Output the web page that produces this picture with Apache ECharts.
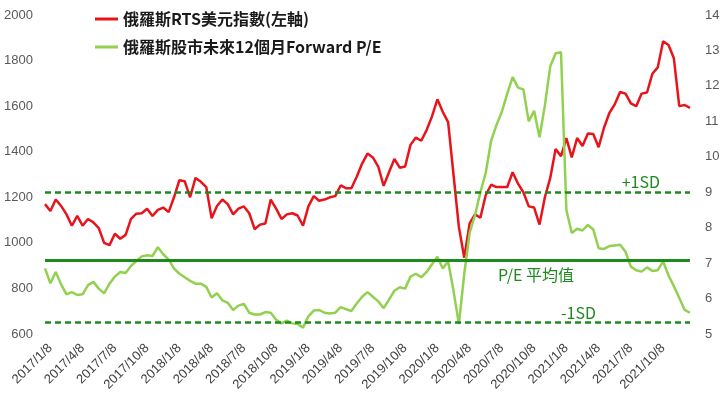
<!DOCTYPE html>
<html>
<head>
<meta charset="utf-8">
<script src="https://cdn.jsdelivr.net/npm/echarts@6/dist/echarts.min.js"></script>
<style>
html, body { margin: 0; padding: 0; background: #fff; }
#chart { width: 725px; height: 403px; }
</style>
</head>
<body>
<div id="chart"></div>
<script>
// 季度刻度標籤
var tickLabels = ['2017/1/8', '2017/4/8', '2017/7/8', '2017/10/8', '2018/1/8', '2018/4/8', '2018/7/8', '2018/10/8',
    '2019/1/8', '2019/4/8', '2019/7/8', '2019/10/8', '2020/1/8', '2020/4/8', '2020/7/8', '2020/10/8',
    '2021/1/8', '2021/4/8', '2021/7/8', '2021/10/8'];

// 俄羅斯RTS美元指數 (左軸), 每半月一點, 2016/12/23 ~ 2021/12/23
var rtsIndex = [
    1170, 1140, 1190, 1162, 1125, 1075, 1118, 1075, 1105, 1090, 1065, 1000, 990, 1040, 1018, 1035,
    1105, 1128, 1130, 1150, 1118, 1145, 1155, 1135, 1200, 1275, 1270, 1200, 1285, 1268, 1245, 1108,
    1162, 1190, 1170, 1125, 1150, 1160, 1130, 1060, 1080, 1085, 1190, 1150, 1105, 1125, 1130, 1120,
    1075, 1160, 1205, 1185, 1190, 1200, 1205, 1252, 1240, 1240, 1290, 1348, 1392, 1375, 1335, 1250,
    1310, 1368, 1330, 1335, 1430, 1462, 1448, 1495, 1555, 1630, 1575, 1530, 1300, 1070, 935, 1085,
    1125, 1110, 1210, 1255, 1245, 1245, 1245, 1310, 1260, 1222, 1160, 1155, 1080, 1200, 1285, 1412,
    1380, 1460, 1375, 1460, 1425, 1480, 1478, 1420, 1505, 1570, 1608, 1662, 1655, 1612, 1600, 1655,
    1660, 1742, 1770, 1885, 1868, 1810, 1600, 1605, 1592
];

// 俄羅斯股市未來12個月Forward P/E (右軸)
var forwardPE = [
    6.85, 6.43, 6.75, 6.40, 6.12, 6.18, 6.10, 6.12, 6.38, 6.47, 6.28, 6.15, 6.42, 6.62, 6.75, 6.72,
    6.92, 7.06, 7.19, 7.22, 7.20, 7.45, 7.25, 7.10, 6.85, 6.70, 6.60, 6.50, 6.42, 6.42, 6.33, 6.03,
    6.15, 5.95, 5.88, 5.68, 5.80, 5.85, 5.60, 5.55, 5.55, 5.62, 5.60, 5.40, 5.30, 5.38, 5.30, 5.28,
    5.18, 5.50, 5.66, 5.68, 5.60, 5.58, 5.60, 5.76, 5.70, 5.65, 5.86, 6.05, 6.18, 6.05, 5.92, 5.73,
    5.97, 6.22, 6.32, 6.28, 6.62, 6.70, 6.60, 6.75, 6.97, 7.18, 6.85, 7.05, 6.22, 5.28, 6.70, 7.85,
    8.35, 9.00, 9.55, 10.45, 10.90, 11.27, 11.78, 12.25, 11.95, 11.90, 11.00, 11.30, 10.55, 11.45, 12.55, 12.92,
    12.95, 8.50, 7.85, 7.97, 7.92, 8.08, 7.95, 7.42, 7.40, 7.48, 7.50, 7.52, 7.32, 6.90, 6.80, 6.76,
    6.88, 6.78, 6.80, 7.05, 6.65, 6.35, 6.02, 5.68, 5.60
];

// P/E 平均值與正負一個標準差
var peMean = 7.07;
var pePlus1SD = 8.99;
var peMinus1SD = 5.32;

// 類目: 每月8日及23日
var categories = ['2016/12/23'];
for (var y = 2017; y <= 2021; y++) {
    for (var m = 1; m <= 12; m++) {
        categories.push(y + '/' + m + '/8');
        categories.push(y + '/' + m + '/23');
    }
}

var sdGreen = '#1e8a1e';
var axisText = {
    color: '#595959',
    fontSize: 13,
    fontFamily: 'Liberation Sans',
    formatter: function (v) { return String(v); }
};

var myChart = echarts.init(document.getElementById('chart'));
var option = {
    animation: false,
    backgroundColor: '#fff',
    grid: { left: 45, right: 35, top: 15, bottom: 69 },
    legend: {
        orient: 'vertical',
        left: 90,
        top: 4,
        itemWidth: 23,
        itemHeight: 3,
        itemGap: 8,
        icon: 'rect',
        textStyle: { color: '#1a1a1a', fontSize: 16, fontWeight: 'bold', fontFamily: 'Noto Sans CJK TC', lineHeight: 20 },
        data: ['俄羅斯RTS美元指數(左軸)', '俄羅斯股市未來12個月Forward P/E']
    },
    xAxis: {
        type: 'category',
        data: categories,
        boundaryGap: false,
        axisLine: { show: false },
        axisTick: { show: false },
        splitLine: { show: false },
        axisLabel: {
            interval: function (index, value) {
                return tickLabels.indexOf(value) >= 0;
            },
            rotate: 45,
            margin: 12,
            color: '#404040',
            fontSize: 13,
            fontFamily: 'Liberation Sans'
        }
    },
    yAxis: [{
        type: 'value',
        min: 600,
        max: 2000,
        interval: 200,
        axisLine: { show: false },
        axisTick: { show: false },
        splitLine: { show: false },
        axisLabel: Object.assign({ margin: 12 }, axisText)
    }, {
        type: 'value',
        min: 5,
        max: 14,
        interval: 1,
        axisLine: { show: false },
        axisTick: { show: false },
        splitLine: { show: false },
        axisLabel: Object.assign({ margin: 15 }, axisText)
    }],
    series: [{
        name: '俄羅斯RTS美元指數(左軸)',
        type: 'line',
        yAxisIndex: 0,
        data: rtsIndex,
        showSymbol: false,
        color: '#e8141c',
        lineStyle: { width: 2.5, color: '#e8141c' }
    }, {
        name: '俄羅斯股市未來12個月Forward P/E',
        type: 'line',
        yAxisIndex: 1,
        data: forwardPE,
        showSymbol: false,
        color: '#92d050',
        lineStyle: { width: 2.5, color: '#92d050' },
        markLine: {
            silent: true,
            symbol: 'none',
            animation: false,
            label: { color: sdGreen, fontSize: 16, fontFamily: 'Noto Sans CJK TC' },
            data: [{
                yAxis: pePlus1SD,
                lineStyle: { color: sdGreen, width: 2.5, type: [6, 4] },
                label: { formatter: '+1SD', position: 'insideEndTop', padding: [0, 27, 0, 0], distance: 3 }
            }, {
                yAxis: peMean,
                lineStyle: { color: sdGreen, width: 3, type: 'solid' },
                label: { formatter: 'P/E 平均值', position: 'insideEndBottom', padding: [0, 110, 0, 0], distance: 6 }
            }, {
                yAxis: peMinus1SD,
                lineStyle: { color: sdGreen, width: 2.5, type: [6, 4] },
                label: { formatter: '-1SD', position: 'insideEndTop', padding: [0, 92, 0, 0], distance: 2 }
            }]
        }
    }]
};
myChart.setOption(option);
</script>
</body>
</html>
